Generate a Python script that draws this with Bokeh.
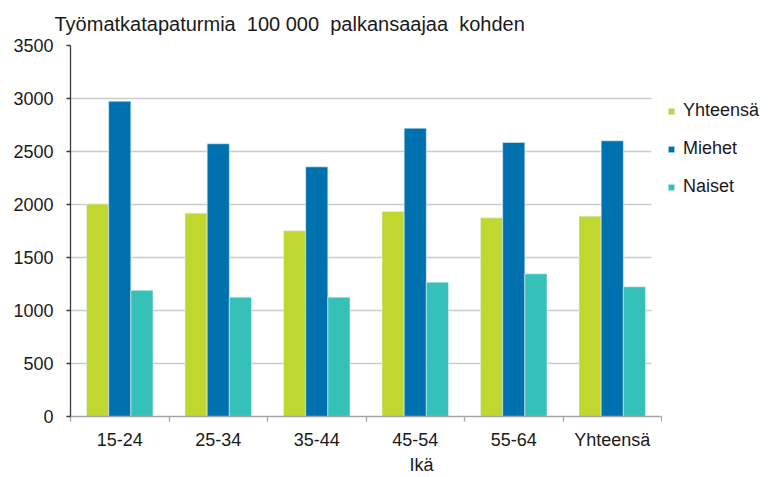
from bokeh.plotting import figure
from bokeh.models import ColumnDataSource, Range1d, Legend, LegendItem, Title, FixedTicker, SingleIntervalTicker
from bokeh.embed import file_html
from bokeh.resources import INLINE

categories = ["15-24", "25-34", "35-44", "45-54", "55-64", "Yhteensä"]
yhteensa = [2005, 1918, 1752, 1934, 1874, 1890]
miehet = [2975, 2573, 2355, 2720, 2585, 2601]
naiset = [1190, 1126, 1126, 1267, 1346, 1224]
series_names = ["Yhteensä", "Miehet", "Naiset"]
colors = ["#C0D72F", "#0071AF", "#35C1B8"]
title_text = "Työmatkatapaturmia\u00a0\u00a0100 000\u00a0\u00a0palkansaajaa\u00a0\u00a0kohden"
x_label = "Ikä"
grid_values = [500, 1000, 1500, 2000, 2500, 3000]

n = len(categories)
centers = [i + 0.5 for i in range(n)]
bw = 0.225
# frame spans 70..772 px; the category axis occupies 70..661 px
x_end = n * (772 - 70) / (661 - 70)
grid_end = n * (651 - 70) / (661 - 70)

source = ColumnDataSource(dict(
    x=centers, y=yhteensa, m=miehet, n=naiset,
    xy=[c - bw for c in centers], xm=centers, xn=[c + bw for c in centers]))

p = figure(x_range=Range1d(0, x_end), y_range=Range1d(0, 3500),
           width=772, height=477, output_backend="svg", toolbar_location=None,
           min_border_left=70, min_border_right=0, min_border_top=45, min_border_bottom=61)

FONT = "Liberation Sans"
TXT = "#1a1a1a"

p.segment(x0=[0] * len(grid_values), x1=[grid_end] * len(grid_values),
          y0=grid_values, y1=grid_values, line_color="#CCCCCC", line_width=1.6)

renderers = []
for xf, field, col in zip(["xy", "xm", "xn"], ["y", "m", "n"], colors):
    r = p.vbar(x=xf, top=field, width=bw, source=source,
               fill_color=col, line_color="#E3F0F6", line_width=0.6)
    renderers.append(r)

legend = Legend(items=[LegendItem(label=s, renderers=[r]) for s, r in zip(series_names, renderers)],
                location=(597, 219), border_line_color=None, background_fill_alpha=0,
                padding=0, margin=0, spacing=17, glyph_width=8, glyph_height=8,
                label_height=21, label_standoff=8,
                label_text_font=FONT, label_text_font_size="18px", label_text_color=TXT)
p.add_layout(legend, "center")

p.title = Title(text=title_text, text_font=FONT, text_font_size="20px", text_font_style="normal",
                text_color=TXT, align="left", offset=-16, vertical_align="top", standoff=17)

p.outline_line_color = None
p.xgrid.grid_line_color = None
p.ygrid.grid_line_color = None

p.yaxis.ticker = SingleIntervalTicker(interval=500)
p.yaxis.axis_line_color = "#3a3a3a"
p.yaxis.axis_line_width = 1.3
p.yaxis.major_tick_line_color = "#3a3a3a"
p.yaxis.major_tick_line_width = 1.3
p.yaxis.major_tick_in = 0
p.yaxis.major_tick_out = 4
p.yaxis.minor_tick_line_color = None
p.yaxis.major_label_text_font = FONT
p.yaxis.major_label_text_font_size = "18px"
p.yaxis.major_label_text_color = TXT
p.yaxis.major_label_standoff = 13

p.xaxis.bounds = (0, n)
p.xaxis.ticker = FixedTicker(ticks=centers, minor_ticks=list(range(n + 1)))
p.xaxis.major_label_overrides = {c: lab for c, lab in zip(centers, categories)}
p.xaxis.axis_line_color = "#A6A6A6"
p.xaxis.axis_line_width = 1.5
p.xaxis.major_tick_line_color = None
p.xaxis.major_tick_in = 0
p.xaxis.major_tick_out = 0
p.xaxis.minor_tick_line_color = "#A6A6A6"
p.xaxis.minor_tick_line_width = 1.3
p.xaxis.minor_tick_in = 0
p.xaxis.minor_tick_out = 5
p.xaxis.major_label_text_font = FONT
p.xaxis.major_label_text_font_size = "18px"
p.xaxis.major_label_text_color = TXT
p.xaxis.major_label_standoff = 8
p.xaxis.axis_label = x_label
p.xaxis.axis_label_text_font = FONT
p.xaxis.axis_label_text_font_size = "18px"
p.xaxis.axis_label_text_font_style = "normal"
p.xaxis.axis_label_text_color = TXT
p.xaxis.axis_label_standoff = 2

open("out.html", "w").write(file_html(p, INLINE))
